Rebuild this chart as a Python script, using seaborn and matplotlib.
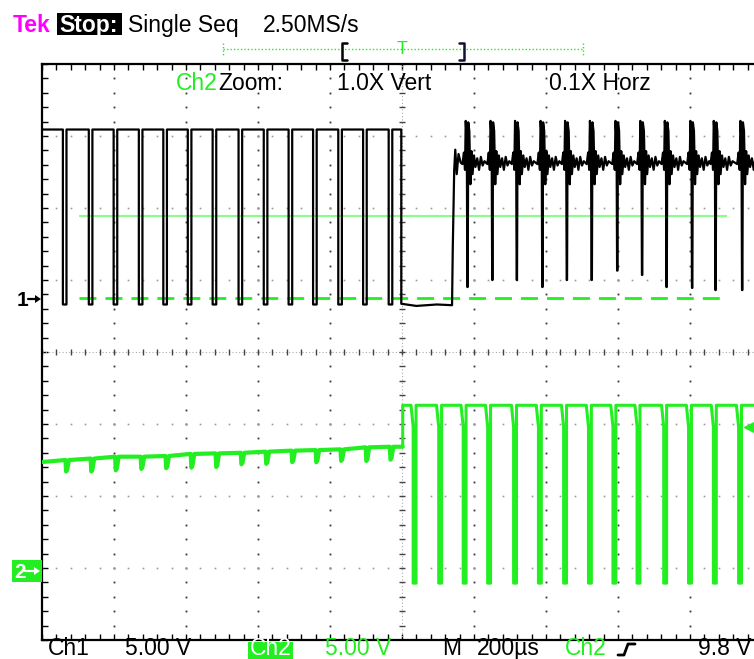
import numpy as np
import pandas as pd
import seaborn as sns
import matplotlib
matplotlib.use("Agg")
import matplotlib.pyplot as plt
from matplotlib.lines import Line2D
from matplotlib.patches import Rectangle, Polygon

# ---------------- data (time in microseconds relative to trigger, volts) ----------------
# Channel 1 (5.00 V/div)
ch1_high_v = 11.7
ch1_low_v = -0.45
ch1_pre_dips_us = [-937, -865, -796, -726, -658, -590, -521, -449, -379, -310, -242, -172, -103, -32]
ch1_gap_t_us = [-2, 40, 97, 139, 141, 145, 148, 152, 157, 163]
ch1_gap_v = [-0.4, -0.55, -0.45, -0.5, 3.4, 8.9, 10.3, 8.6, 10.0, 9.4]
ch1_post_dips_us = [182, 251, 319, 390, 458, 527, 598, 667, 735, 806, 871, 945]
ch1_post_dip_low_v = [0.76, 1.25, 1.25, 0.76, 1.25, 1.25, 1.9, 1.6, 0.76, 0.7, 0.55, 0.55]
ch1_ripple_before_us = [-14, -10, -7, -5, -2]
ch1_ripple_before_v = [9.3, 10.1, 8.9, 12.3, 11.0]
ch1_ripple_after_us = [2, 5, 8, 11, 14, 18, 22, 27, 32, 37, 42, 47]
ch1_ripple_after_v = [12.2, 11.6, 7.9, 10.2, 8.6, 9.9, 9.1, 9.7, 8.9, 9.8, 9.2, 9.5]

# Channel 2 (5.00 V/div)
ch2_start_v = 7.36
ch2_pre_dips_us = [-932, -862, -794, -723, -654, -584, -515, -445, -376, -304, -237, -168, -98, -31]
ch2_pre_base_v = [7.5, 7.6, 7.73, 7.73, 7.78, 7.92, 7.96, 8.0, 8.08, 8.15, 8.19, 8.24, 8.38, 8.42]
ch2_pre_dip_depth_v = [0.8, 0.9, 0.95, 0.85, 0.85, 0.95, 0.95, 0.8, 0.85, 0.8, 0.85, 0.8, 0.95, 0.9]
ch2_high_v = 11.3
ch2_low_v = -1.05
ch2_post_pulses_us = [35, 106, 174, 242, 314, 383, 453, 522, 590, 657, 731, 800, 869, 939]

# cursors (in Ch1 volts)
cursor_solid_v = 5.7
cursor_dashed_v = 0.0
cursor_span_us = [-897, 903]

# readout
trigger_level_v = 9.8

# ---------------- geometry / styles ----------------
W, H = 754, 659
DIV_US = 200.0
V_PER_DIV = 5.0
CH1_GND_DIV = 0.75
CH2_GND_DIV = -3.0
GREEN = "#22ee22"
LIGHT_GREEN = "#88ff88"
MAGENTA = "#ff00ff"
FS = 16.5

sns.set_theme(style="white")
plt.rcParams["font.family"] = ["Liberation Sans", "DejaVu Sans"]

fig = plt.figure(figsize=(W / 100, H / 100), dpi=100)
fig.patch.set_facecolor("white")
ax = fig.add_axes([42 / W, (H - 640) / H, 720 / W, 576 / H])
ax.set_xlim(-1000, 1000)
ax.set_ylim(-4, 4)
ax.set_facecolor("white")
for s in ["top", "left", "bottom"]:
    ax.spines[s].set_color("black")
    ax.spines[s].set_linewidth(1.6)
ax.spines["right"].set_visible(False)

minor_x = np.arange(-1000, 1000.1, DIV_US / 5)
minor_y = np.arange(-4, 4.001, 0.2)
ax.set_xticks(minor_x)
ax.set_yticks(minor_y)
ax.tick_params(direction="in", length=4, width=1.0, color="black",
               top=True, bottom=True, left=True, right=False,
               labelbottom=False, labelleft=False)

# dotted graticule
for xm in np.arange(-800, 1000.1, DIV_US):
    if xm == 0:
        continue
    ax.plot([xm] * len(minor_y), minor_y, ls="none", marker="s", ms=1.3, mew=0, color="#333333", zorder=1)
for ym in np.arange(-3, 3.1, 1):
    if ym == 0:
        continue
    ax.plot(minor_x, [ym] * len(minor_x), ls="none", marker="s", ms=1.2, mew=0, color="#999999", zorder=1)
ax.axhline(0, color="#aaaaaa", lw=0.8, ls=(0, (1, 2)), zorder=1)
ax.axvline(0, color="#aaaaaa", lw=0.8, ls=(0, (1, 2)), zorder=1)
ax.plot(minor_x, [0] * len(minor_x), ls="none", marker="|", ms=5, mew=1.0, color="#444444", zorder=1)
ax.plot([0] * len(minor_y), minor_y, ls="none", marker="_", ms=5, mew=1.0, color="#444444", zorder=1)

# ---------------- build traces ----------------
def to_div(volts, gnd):
    return gnd + np.asarray(volts, dtype=float) / V_PER_DIV

t1, v1 = [-1000.0], [ch1_high_v]
for d in ch1_pre_dips_us:
    t1 += [d - 5, d - 5, d + 5, d + 5]
    v1 += [ch1_high_v, ch1_low_v, ch1_low_v, ch1_high_v]
t1 += [ch1_gap_t_us[0]]
v1 += [ch1_high_v]
t1 += ch1_gap_t_us
v1 += ch1_gap_v
for d, low in zip(ch1_post_dips_us, ch1_post_dip_low_v):
    t1 += [d + r for r in ch1_ripple_before_us]
    v1 += ch1_ripple_before_v
    t1 += [d - 0.5, d + 0.5]
    v1 += [low, low]
    t1 += [d + r for r in ch1_ripple_after_us]
    v1 += ch1_ripple_after_v
ch1 = pd.DataFrame({"t": t1, "y": to_div(v1, CH1_GND_DIV)})

t2, v2 = [-1000.0], [ch2_start_v]
for d, b, dep in zip(ch2_pre_dips_us, ch2_pre_base_v, ch2_pre_dip_depth_v):
    t2 += [d - 3, d - 1, d + 2, d + 7]
    v2 += [b, b - dep, b - dep * 0.85, b]
t2 += [2]
v2 += [ch2_pre_base_v[-1]]
ch2a = pd.DataFrame({"t": t2, "y": to_div(v2, CH2_GND_DIV)})

t3, v3 = [2.0, 2.0], [ch2_pre_base_v[-1], ch2_high_v]
for p in ch2_post_pulses_us:
    t3 += [p - 10, p - 4, p - 4, p + 4, p + 4]
    v3 += [ch2_high_v, ch2_high_v - 1.5, ch2_low_v, ch2_low_v, ch2_high_v]
t3 += [1000]
v3 += [ch2_high_v]
ch2b = pd.DataFrame({"t": t3, "y": to_div(v3, CH2_GND_DIV)})

# cursors
ax.hlines(to_div(cursor_solid_v, CH1_GND_DIV), *cursor_span_us, color=LIGHT_GREEN, lw=1.5, zorder=2)
ax.hlines(to_div(cursor_dashed_v, CH1_GND_DIV), *cursor_span_us, color=GREEN, lw=2.0,
          linestyles=[(0, (6.1, 3.25))], zorder=2)

sns.lineplot(data=ch2a, x="t", y="y", sort=False, estimator=None, color=GREEN, lw=3.0, ax=ax, zorder=3)
sns.lineplot(data=ch2b, x="t", y="y", sort=False, estimator=None, color=GREEN, lw=2.2, ax=ax, zorder=3)
sns.lineplot(data=ch1, x="t", y="y", sort=False, estimator=None, color="black", lw=1.6, ax=ax, zorder=4)
ax.set_xlabel("")
ax.set_ylabel("")

ax.plot([967], [to_div(trigger_level_v, CH2_GND_DIV)], marker="<", ms=8, color=GREEN,
        ls="none", clip_on=False, zorder=5)

# ---------------- text & decorations (figure pixel coords) ----------------
def fx(x):
    return x / W

def fy(y):
    return 1 - y / H

def ptext(x, y, s, color="black", **kw):
    fig.text(fx(x), fy(y), s, color=color, fontsize=kw.pop("fontsize", FS),
             va=kw.pop("va", "baseline"), ha=kw.pop("ha", "left"), **kw)

def pline(xs, ys, color="black", lw=1.5, **kw):
    fig.add_artist(Line2D([fx(x) for x in xs], [fy(y) for y in ys], color=color, lw=lw,
                          transform=fig.transFigure, **kw))

def prect(x0, y0, x1, y1, color):
    fig.add_artist(Rectangle((fx(x0), fy(y1)), (x1 - x0) / W, (y1 - y0) / H,
                             transform=fig.transFigure, color=color, lw=0))

def ppoly(pts, color):
    fig.add_artist(Polygon([(fx(x), fy(y)) for x, y in pts], closed=True,
                           transform=fig.transFigure, color=color, lw=0))

def parrow(x0, x1, y, color):
    pline([x0, x1 - 4], [y, y], color=color, lw=1.6)
    ppoly([(x1 - 6, y - 4), (x1, y), (x1 - 6, y + 4)], color)

# top status line
ptext(13, 32, "Tek", MAGENTA, fontweight="bold")
prect(57, 13, 122, 35, "black")
ptext(59, 32, "Stop:", "white", fontweight="bold")
ptext(128, 32, "Single Seq", "black")
ptext(263, 32, "2.50MS/s", "black")

# record bar
pline([223, 583], [49, 49], color=GREEN, lw=1.0, ls=(0, (1, 1.5)))
pline([223, 223], [43, 56], color=GREEN, lw=1.0, ls=(0, (1, 1.5)))
pline([583, 583], [43, 56], color=GREEN, lw=1.0, ls=(0, (1, 1.5)))
pline([347, 342, 342, 347], [43, 43, 60, 60], color="black", lw=1.8)
pline([459, 464, 464, 459], [43, 43, 60, 60], color="#111133", lw=1.8)
ptext(402, 41, "T", GREEN, fontsize=13, ha="center", va="top")

# zoom readout
ptext(176, 90, "Ch2", GREEN)
ptext(218, 90, "Zoom:", "black")
ptext(337, 90, "1.0X Vert", "black")
ptext(549, 90, "0.1X Horz", "black")

# channel markers
ptext(17, 306, "1", "black", fontsize=15, fontweight="bold")
parrow(28, 41, 299, "black")
prect(12, 560, 42, 582, GREEN)
ptext(14, 578, "2", "white", fontsize=15, fontweight="bold")
parrow(25, 40, 571, "white")

# bottom readout
BY = 655
ptext(48, BY, "Ch1", "black")
ptext(125, BY, "5.00 V", "black")
prect(248, 642, 293, 659, GREEN)
ptext(250, BY, "Ch2", "white")
ptext(325, BY, "5.00 V", GREEN)
ptext(442, BY, "M", "black")
ptext(477, BY, "200\u00b5s", "black")
ptext(565, BY, "Ch2", GREEN)
pline([618, 624, 628, 635], [655, 655, 644, 644], color="black", lw=2.0)
ptext(698, BY, "9.8 V", "black")

fig.savefig("out.png", dpi=100, facecolor="white")
